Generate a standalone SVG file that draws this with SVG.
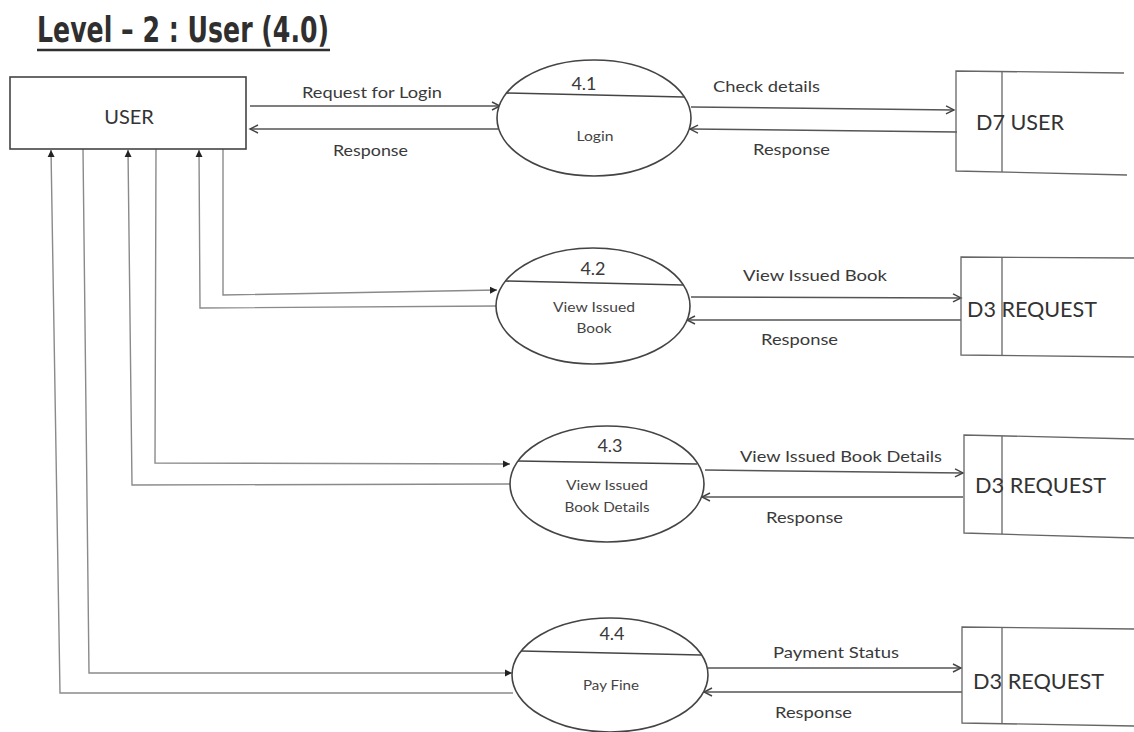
<svg xmlns="http://www.w3.org/2000/svg" width="1134" height="732" viewBox="0 0 1134 732">
<style>
  .title { font-family: "DejaVu Sans Condensed", "DejaVu Sans", "Liberation Sans", sans-serif; font-weight: bold; font-size: 36px; fill: #2f2f2f; }
  .lbl { font-family: Lato, "Open Sans", "Liberation Sans", sans-serif; font-size: 16px; fill: #3a3a3a; }
  .num { font-family: Lato, "Open Sans", "Liberation Sans", sans-serif; font-size: 18px; fill: #3a3a3a; text-anchor: middle; }
  .proc { font-family: Lato, "Open Sans", "Liberation Sans", sans-serif; font-size: 14px; fill: #444; text-anchor: middle; }
  .store { font-family: Lato, "Open Sans", "Liberation Sans", sans-serif; font-size: 21px; fill: #333; }
  .ent { font-family: Lato, "Open Sans", "Liberation Sans", sans-serif; font-size: 20px; fill: #333; text-anchor: middle; }
  .shape { fill: #fff; stroke: #444; stroke-width: 1.6; }
  .div { stroke: #444; stroke-width: 1.6; fill: none; }
  .sline { stroke: #666; stroke-width: 1.3; fill: none; }
  .flow { stroke: #555; stroke-width: 1.5; fill: none; }
  .conn { stroke: #8a8a8a; stroke-width: 1.4; fill: none; }
  .open { marker-end: url(#openArrow); }
  .solid { marker-end: url(#solidArrow); }
</style>
<defs>
  <marker id="openArrow" markerWidth="12" markerHeight="12" refX="9" refY="5" orient="auto" markerUnits="userSpaceOnUse">
    <path d="M1,1 L9,5 L1,9" fill="none" stroke="#444" stroke-width="1.4"/>
  </marker>
  <marker id="solidArrow" markerWidth="10" markerHeight="10" refX="7" refY="4" orient="auto" markerUnits="userSpaceOnUse">
    <path d="M0,0.5 L7,4 L0,7.5 z" fill="#222"/>
  </marker>
</defs>
<rect width="1134" height="732" fill="#fff"/>

<g id="title">
  <text class="title" x="37" y="42" textLength="292" lengthAdjust="spacingAndGlyphs">Level – 2 : User (4.0)</text>
  <line x1="37" y1="50" x2="330" y2="50" stroke="#2f2f2f" stroke-width="2.5"/>
</g>

<g id="connectors">
  <!-- USER <-> 4.1 -->
  <line class="flow open" x1="250" y1="106" x2="500" y2="106"/>
  <line class="flow open" x1="498" y1="129" x2="250" y2="129"/>
  <!-- 4.1 <-> D7 -->
  <line class="flow open" x1="691" y1="107" x2="954" y2="110"/>
  <line class="flow open" x1="957" y1="132" x2="690" y2="129"/>
  <!-- USER <-> 4.2 -->
  <polyline class="conn solid" points="223,149 223,295 497,290"/>
  <polyline class="conn solid" points="497,306 200,308 199,150"/>
  <!-- 4.2 <-> D3 -->
  <line class="flow open" x1="691" y1="297" x2="961" y2="298"/>
  <line class="flow open" x1="961" y1="320" x2="687" y2="320"/>
  <!-- USER <-> 4.3 -->
  <polyline class="conn solid" points="156,149 155,463 510,464"/>
  <polyline class="conn solid" points="511,484 132,485 128,150"/>
  <!-- 4.3 <-> D3 -->
  <line class="flow open" x1="705" y1="470" x2="963" y2="473"/>
  <line class="flow open" x1="963" y1="497" x2="702" y2="497"/>
  <!-- USER <-> 4.4 -->
  <polyline class="conn solid" points="83,149 89,673 512,673"/>
  <polyline class="conn solid" points="513,693 60,693 51,150"/>
  <!-- 4.4 <-> D3 -->
  <line class="flow open" x1="708" y1="668" x2="961" y2="668"/>
  <line class="flow open" x1="962" y1="692" x2="704" y2="692"/>
</g>

<g id="flow-labels">
  <text class="lbl" x="302" y="98" textLength="140" lengthAdjust="spacingAndGlyphs">Request for Login</text>
  <text class="lbl" x="333" y="156" textLength="75" lengthAdjust="spacingAndGlyphs">Response</text>
  <text class="lbl" x="713" y="92" textLength="107" lengthAdjust="spacingAndGlyphs">Check details</text>
  <text class="lbl" x="753" y="155" textLength="77" lengthAdjust="spacingAndGlyphs">Response</text>
  <text class="lbl" x="743" y="281" textLength="144" lengthAdjust="spacingAndGlyphs">View Issued Book</text>
  <text class="lbl" x="761" y="345" textLength="77" lengthAdjust="spacingAndGlyphs">Response</text>
  <text class="lbl" x="740" y="462" textLength="202" lengthAdjust="spacingAndGlyphs">View Issued Book Details</text>
  <text class="lbl" x="766" y="523" textLength="77" lengthAdjust="spacingAndGlyphs">Response</text>
  <text class="lbl" x="773" y="658" textLength="126" lengthAdjust="spacingAndGlyphs">Payment Status</text>
  <text class="lbl" x="775" y="718" textLength="77" lengthAdjust="spacingAndGlyphs">Response</text>
</g>

<g id="user">
  <rect class="shape" x="10" y="77" width="236" height="72"/>
  <text class="ent" x="129" y="124">USER</text>
</g>

<g id="p41">
  <ellipse class="shape" cx="594" cy="118" rx="97" ry="58"/>
  <line class="div" x1="506" y1="93" x2="684" y2="97"/>
  <text class="num" x="584" y="90">4.1</text>
  <text class="proc" x="595" y="141" textLength="37" lengthAdjust="spacingAndGlyphs">Login</text>
</g>

<g id="p42">
  <ellipse class="shape" cx="593" cy="306" rx="97" ry="58"/>
  <line class="div" x1="505" y1="281" x2="683" y2="285"/>
  <text class="num" x="593" y="275">4.2</text>
  <text class="proc" x="594" y="312" textLength="82" lengthAdjust="spacingAndGlyphs">View Issued</text>
  <text class="proc" x="594" y="333" textLength="35" lengthAdjust="spacingAndGlyphs">Book</text>
</g>

<g id="p43">
  <ellipse class="shape" cx="607" cy="484" rx="97" ry="58"/>
  <line class="div" x1="518" y1="461" x2="697" y2="464"/>
  <text class="num" x="610" y="452">4.3</text>
  <text class="proc" x="607" y="490" textLength="82" lengthAdjust="spacingAndGlyphs">View Issued</text>
  <text class="proc" x="607" y="512" textLength="85" lengthAdjust="spacingAndGlyphs">Book Details</text>
</g>

<g id="p44">
  <ellipse class="shape" cx="610" cy="675" rx="98" ry="57"/>
  <line class="div" x1="521" y1="651" x2="701" y2="655"/>
  <text class="num" x="612" y="640">4.4</text>
  <text class="proc" x="611" y="690" textLength="56" lengthAdjust="spacingAndGlyphs">Pay Fine</text>
</g>

<g id="d7-user">
  <polyline class="sline" points="1124,73 956,71 956,171 1127,175"/>
  <line class="sline" x1="1002" y1="71" x2="1002" y2="172"/>
  <text class="store" x="976" y="130" textLength="88" lengthAdjust="spacingAndGlyphs">D7 USER</text>
</g>

<g id="d3-request-1">
  <polyline class="sline" points="1134,258 961,257 961,355 1134,357"/>
  <line class="sline" x1="1002" y1="257" x2="1002" y2="356"/>
  <text class="store" x="967" y="317" textLength="130" lengthAdjust="spacingAndGlyphs">D3 REQUEST</text>
</g>

<g id="d3-request-2">
  <polyline class="sline" points="1134,439 964,435 964,533 1134,538"/>
  <line class="sline" x1="1002" y1="436" x2="1002" y2="534"/>
  <text class="store" x="975" y="493" textLength="131" lengthAdjust="spacingAndGlyphs">D3 REQUEST</text>
</g>

<g id="d3-request-3">
  <polyline class="sline" points="1134,629 962,627 962,723 1134,726"/>
  <line class="sline" x1="1002" y1="628" x2="1002" y2="724"/>
  <text class="store" x="973" y="689" textLength="131" lengthAdjust="spacingAndGlyphs">D3 REQUEST</text>
</g>
</svg>
